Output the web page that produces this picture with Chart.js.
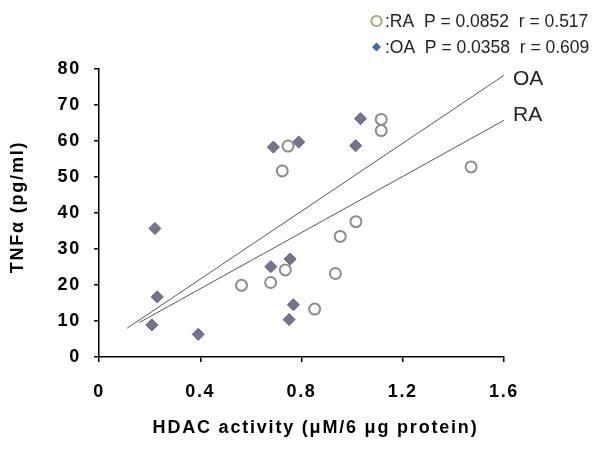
<!DOCTYPE html>
<html>
<head>
<meta charset="utf-8">
<script src="https://cdn.jsdelivr.net/npm/chart.js@4.4.1/dist/chart.umd.min.js"></script>
<style>
  html, body { margin: 0; padding: 0; background: #fff; }
</style>
</head>
<body>
<canvas id="myChart" width="600" height="449"></canvas>
<script>
// RA patients (open circles)
const raX = [0.747, 0.724, 1.115, 1.115, 1.470, 1.015, 0.953, 0.934, 0.563, 0.678, 0.736, 0.852];
const raY = [58.6, 51.7, 66.0, 62.9, 52.8, 37.6, 33.5, 23.2, 19.9, 20.7, 24.2, 13.3];

// OA patients (diamonds)
const oaX = [0.221, 0.230, 0.209, 0.392, 0.679, 0.755, 0.768, 0.751, 0.689, 0.789, 1.033, 1.014];
const oaY = [35.7, 16.7, 8.9, 6.3, 25.1, 27.2, 14.5, 10.4, 58.3, 59.7, 66.2, 58.7];

// regression lines (end points)
const oaLineX = [0.111, 1.6];
const oaLineY = [8.0, 78.25];
const raLineX = [0.160, 1.6];
const raLineY = [9.6, 65.75];

const xTickLabels = ['0', '0.4', '0.8', '1.2', '1.6'];
const yTickLabels = ['0', '10', '20', '30', '40', '50', '60', '70', '80'];

const xTitle = 'HDAC activity (μM/6 μg protein)';
const yTitle = 'TNFα (pg/ml)';

const legendRows = [
    { symbol: 'circle', text: ':RA  P = 0.0852  r = 0.517' },
    { symbol: 'diamond', text: ':OA  P = 0.0358  r = 0.609' }
];

function toPoints(xs, ys) {
    return xs.map((x, i) => ({ x: x, y: ys[i] }));
}

const FONT = '"Liberation Sans", Arial, sans-serif';

// axis text in the figure is spaced out a bit wider than plain Arial,
// and the axis titles sit a little off-centre, so they are drawn here
const annotatePlugin = {
    id: 'annotate',
    beforeDraw(chart) {
        chart.ctx.letterSpacing = '1.7px';
    },
    afterDraw(chart) {
        const ctx = chart.ctx;
        const area = chart.chartArea;
        const xs = chart.scales.x;
        const ys = chart.scales.y;

        ctx.save();
        ctx.fillStyle = '#000';
        ctx.textBaseline = 'middle';
        ctx.textAlign = 'center';
        ctx.font = 'bold 18px ' + FONT;
        ctx.letterSpacing = '1.8px';
        ctx.fillText(xTitle, (area.left + area.right) / 2 + 14, 428);

        ctx.save();
        ctx.translate(18, (area.top + area.bottom) / 2 - 6);
        ctx.rotate(-Math.PI / 2);
        ctx.fillText(yTitle, 0, 0);
        ctx.restore();

        ctx.letterSpacing = '0px';
        ctx.textAlign = 'left';

        // line labels at the end of each regression line
        ctx.fillStyle = '#222';
        ctx.font = '21px ' + FONT;
        ctx.fillText('OA', xs.getPixelForValue(oaLineX[1]) + 9, ys.getPixelForValue(oaLineY[1]) + 4);
        ctx.fillText('RA', xs.getPixelForValue(raLineX[1]) + 9, ys.getPixelForValue(raLineY[1]) - 5);

        // stats legend, top right
        ctx.font = '17.5px ' + FONT;
        legendRows.forEach((row, i) => {
            const y = 21 + i * 26;
            if (row.symbol === 'circle') {
                ctx.beginPath();
                ctx.arc(376.5, y, 5.2, 0, Math.PI * 2);
                ctx.lineWidth = 1.8;
                ctx.strokeStyle = '#a3a36a';
                ctx.stroke();
            } else {
                ctx.beginPath();
                ctx.moveTo(376.5, y - 4.5);
                ctx.lineTo(381, y);
                ctx.lineTo(376.5, y + 4.5);
                ctx.lineTo(372, y);
                ctx.closePath();
                ctx.fillStyle = '#4669a8';
                ctx.fill();
            }
            ctx.fillStyle = '#222';
            ctx.fillText(row.text, 385, y + 1);
        });
        ctx.restore();
    }
};

const ctx = document.getElementById('myChart').getContext('2d');
new Chart(ctx, {
    type: 'scatter',
    data: {
        datasets: [{
            label: 'OA fit',
            data: toPoints(oaLineX, oaLineY),
            showLine: true,
            borderColor: '#555',
            borderWidth: 1,
            pointRadius: 0
        }, {
            label: 'RA fit',
            data: toPoints(raLineX, raLineY),
            showLine: true,
            borderColor: '#555',
            borderWidth: 1,
            pointRadius: 0
        }, {
            label: 'RA',
            data: toPoints(raX, raY),
            pointStyle: 'circle',
            pointRadius: 5.5,
            backgroundColor: '#fff',
            borderColor: '#8c8c8c',
            borderWidth: 2
        }, {
            label: 'OA',
            data: toPoints(oaX, oaY),
            pointStyle: 'rectRot',
            pointRadius: 6,
            backgroundColor: '#77738f',
            borderColor: '#625e7c',
            borderWidth: 1
        }]
    },
    options: {
        responsive: false,
        animation: false,
        layout: {
            padding: { left: 0, right: 96, top: 69, bottom: 0 }
        },
        plugins: {
            legend: { display: false },
            tooltip: { enabled: false }
        },
        scales: {
            x: {
                type: 'linear',
                min: 0,
                max: 1.6,
                afterFit: scale => { scale.height = 92; },
                grid: { drawOnChartArea: false, color: '#000', lineWidth: 1.5, tickLength: 5 },
                border: { color: '#000', width: 1.5 },
                ticks: {
                    stepSize: 0.4,
                    padding: 19,
                    color: '#000',
                    font: { family: FONT, size: 18, weight: 'bold' },
                    callback: (value, index) => xTickLabels[index]
                }
            },
            y: {
                min: 0,
                max: 80,
                afterFit: scale => { scale.width = 99; },
                grid: { drawOnChartArea: false, color: '#000', lineWidth: 1.5, tickLength: 5 },
                border: { color: '#000', width: 1.5 },
                ticks: {
                    stepSize: 10,
                    padding: 13,
                    color: '#000',
                    font: { family: FONT, size: 18, weight: 'bold' },
                    callback: (value, index) => yTickLabels[index]
                }
            }
        }
    },
    plugins: [annotatePlugin]
});
</script>
</body>
</html>
